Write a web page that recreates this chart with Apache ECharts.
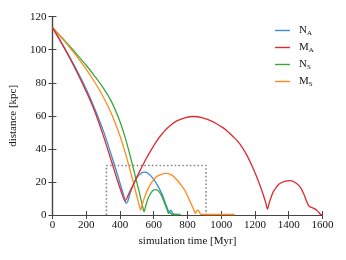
<!DOCTYPE html>
<html><head><meta charset="utf-8">
<script src="https://cdn.jsdelivr.net/npm/echarts@6/dist/echarts.min.js"></script>
<style>html,body{margin:0;padding:0;background:#fff}#c{width:346px;height:260px}</style>
</head><body><div id="c"></div>
<script>
// Series names (legend) and colours
const seriesNames = ['N_A', 'M_A', 'N_S', 'M_S'];
const seriesColors = ['#3a8dd6', '#dc2a2f', '#3aa83a', '#ff8b1f'];

// N_A
const tNA = [0,50,100,150,200,250,300,350,385,410,425,437,447,460,480,500,525,549,575,600,625,650,670,685,692,700,708,715,730,740];
const dNA = [113.5,105,96,86.5,76.2,64.5,51.5,36,24.5,16,11,7,8.5,13,18.5,22.5,25.3,25.9,24.5,21.5,17.5,12.5,7,3,1.5,3,2,0.8,0.3,0.3];
// M_A
const tMA = [0,50,100,150,200,250,300,350,385,410,431,440,460,480,505,530,555,580,610,637,680,734,790,833,890,950,1000,1028,1070,1108,1150,1190,1225,1250,1265,1274,1285,1300,1314,1343,1380,1411,1445,1470,1490,1505,1519,1535,1549,1570,1588,1600];
const dMA = [113.5,104.75,95.5,85.5,74.75,63,48.5,32.5,21,13.5,8.5,10,14.5,18.5,24,29,34,38.5,43.5,47.5,52.5,56.8,59,59.6,58.8,56.5,53.5,51.5,47.5,43.4,36.5,28,19.2,12,7,3.6,7.5,12,15,18.8,20.5,20.8,19.2,16.5,12.5,8.5,5.5,4.6,4,2.5,0.4,0];
// N_S
const tNS = [0,50,100,150,200,250,300,350,400,430,451,475,500,520,535,543,550,565,585,605,625,645,665,680,688,695,702,710,760];
const dNS = [113.5,108,102.4,96.6,90.6,84.1,77.1,68.6,56.6,47.3,39.6,30,19.8,11.4,4.9,2,4.5,9.5,13.5,15.3,14.8,12,7,3,1,1.8,1,0.3,0.3];
// M_S
const tMS = [0,50,100,150,200,250,300,350,400,425,450,475,500,515,523,530,545,565,590,615,640,676,710,740,770,784,805,825,840,847,855,862,870,878,900,1080];
const dMS = [113.5,107.75,101.75,95.25,88.25,80.5,71.75,61.25,48,40,31,21.5,11.5,5.5,3,5.5,10.5,15.5,20,23,24.5,25.2,24,21,17,15,10.5,6,2.5,1,2.5,3,2,0.5,0.3,0.3];

// Dotted zoom box (data units)
const boxTime = [320, 910];
const boxDist = [0, 30];

// Axis ranges / ticks
const xMin = 0, xMax = 1600, xStep = 200;
const yMin = 0, yMax = 120, yStep = 20;

const times = [tNA, tMA, tNS, tMS];
const dists = [dNA, dMA, dNS, dMS];

const font = 'Liberation Serif';
const axisCol = '#444';
const txtCol = '#111';

function pairs(t, d) { return t.map((v, i) => [v, d[i]]); }

const series = seriesNames.map((n, i) => ({
  name: n, type: 'line', data: pairs(times[i], dists[i]),
  symbol: 'none', showSymbol: false, smooth: 0.3, color: seriesColors[i],
  lineStyle: { width: 1.3, color: seriesColors[i] }, z: 3 + (i === 1 ? 1 : 0)
}));
series.push({
  name: 'box', type: 'line', symbol: 'none',
  data: [[boxTime[0], boxDist[0]], [boxTime[0], boxDist[1]], [boxTime[1], boxDist[1]], [boxTime[1], boxDist[0]]],
  lineStyle: { width: 1.6, color: '#888', type: [1.6, 2.2] }, z: 2, silent: true
});

const baseX = { type: 'value', min: xMin, max: xMax, interval: xStep,
  axisLine: { show: true, lineStyle: { color: axisCol, width: 1.2 } },
  axisTick: { show: true, inside: true, length: 4, lineStyle: { color: axisCol } },
  splitLine: { show: false } };
const baseY = { type: 'value', min: yMin, max: yMax, interval: yStep,
  axisLine: { show: true, lineStyle: { color: axisCol, width: 1.2 } },
  axisTick: { show: true, inside: true, length: 4, lineStyle: { color: axisCol } },
  splitLine: { show: false } };

const option = {
  animation: false,
  grid: { left: 51.7, right: 23.5, top: 16.7, bottom: 45 },
  legend: {
    data: seriesNames.map(n => ({ name: n, icon: 'rect' })),
    orient: 'vertical', left: 270, top: 20,
    itemWidth: 15, itemHeight: 1.4, itemGap: 5.5,
    formatter: n => { const p = n.split('_'); return '{m|' + p[0] + '}{s|' + p[1] + '}'; },
    textStyle: { fontFamily: font, color: txtCol, padding: [0, 0, 0, 4],
      rich: { m: { fontFamily: font, fontSize: 11, color: txtCol },
              s: { fontFamily: font, fontSize: 7, color: txtCol, padding: [5, 0, 0, 0] } } }
  },
  xAxis: [
    Object.assign({}, baseX, { position: 'bottom', name: 'simulation time [Myr]', nameLocation: 'middle', nameGap: 21,
      nameTextStyle: { fontFamily: font, fontSize: 11, color: txtCol },
      axisLabel: { fontFamily: font, fontSize: 11, color: txtCol, margin: 5, formatter: v => String(v) } }),
    Object.assign({}, baseX, { position: 'top', axisLabel: { show: false } })
  ],
  yAxis: [
    Object.assign({}, baseY, { position: 'left', name: 'distance [kpc]', nameLocation: 'middle', nameGap: 25,
      nameTextStyle: { fontFamily: font, fontSize: 11, color: txtCol },
      axisLabel: { fontFamily: font, fontSize: 11, color: txtCol, margin: 6, formatter: v => String(v) } }),
    Object.assign({}, baseY, { position: 'right', axisLabel: { show: false } })
  ],
  series: series
};
const chart = echarts.init(document.getElementById('c'), null, { renderer: 'canvas' });
chart.setOption(option);
</script></body></html>
